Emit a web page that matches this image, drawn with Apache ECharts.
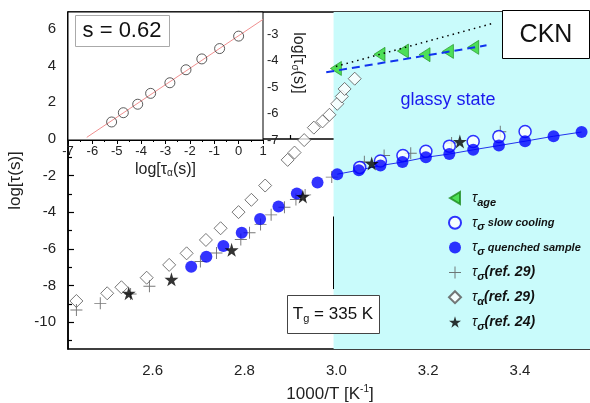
<!DOCTYPE html>
<html><head><meta charset="utf-8">
<script src="https://cdn.jsdelivr.net/npm/echarts@6/dist/echarts.min.js"></script>
<style>html,body{margin:0;padding:0;background:#fff}#c{width:590px;height:403px}</style>
</head><body><div id="c"></div>
<script>
// ---------- data ----------
const xTicks = [2.6, 2.8, 3.0, 3.2, 3.4];
const xMinorTicks = [2.5, 2.7, 2.9, 3.1, 3.3, 3.5];
const yTicks = [-10, -8, -6, -4, -2, 0, 2, 4, 6];
const yMinorTicks = [-11, -9, -7, -5, -3, -1, 1, 3, 5];
const insetXTicks = [-7, -6, -5, -4, -3, -2, -1, 0, 1];
const insetYTicks = [-7, -6, -5, -4, -3];

const tauAge = [[2.999,3.85],[3.094,4.62],[3.145,4.80],[3.192,4.60],[3.243,4.78],[3.298,5.00]];
const ageFitDotted = [[2.999,3.96],[3.338,6.29]];
const ageFitDashed = [[2.978,3.64],[3.327,5.11]];
const slowCooling = [[3.051,-1.55],[3.096,-1.20],[3.145,-0.90],[3.195,-0.67],[3.246,-0.39],[3.298,-0.14],[3.354,0.14],[3.411,0.41]];
const quenched = [[2.684,-6.97],[2.717,-6.42],[2.754,-5.84],[2.794,-5.11],[2.834,-4.36],[2.874,-3.69],[2.914,-2.98],[2.959,-2.37],
  [3.002,-1.92],[3.049,-1.70],[3.096,-1.45],[3.144,-1.26],[3.195,-1.00],[3.246,-0.82],[3.298,-0.59],[3.354,-0.36],[3.411,-0.12],[3.473,0.15],[3.534,0.38]];
const sigmaRef29 = [[2.434,-9.33],[2.486,-8.97],[2.552,-8.46],[2.593,-8.04],[2.704,-6.68],[2.739,-6.22],[2.792,-5.49],[2.811,-5.12],
  [2.835,-4.66],[2.858,-4.14],[2.887,-3.72],[2.912,-3.30],[2.932,-3.05],[2.990,-2.08],[3.061,-1.24],[3.104,-0.90],[3.162,-0.78],[3.251,-0.22],[3.357,0.40]];
const alphaRef29 = [[2.434,-8.84],[2.501,-8.42],[2.532,-8.09],[2.587,-7.57],[2.636,-6.87],[2.674,-6.24],[2.716,-5.51],[2.748,-4.87],
  [2.787,-3.99],[2.815,-3.32],[2.845,-2.54],[2.894,-1.14],[2.909,-0.74],[2.930,-0.06],[2.951,0.62],[2.970,0.96],[2.985,1.32],
  [3.002,1.92],[3.012,2.32],[3.018,2.73],[3.040,3.29]];
const sigmaRef24 = [[2.548,-8.42],[2.641,-7.66],[2.772,-6.05],[2.927,-3.14],[3.077,-1.34],[3.269,-0.14]];
const glassStart = 2.994;
const tgArrow = [[2.994,-4.23],[2.994,-8.19]];

const insetPoints = [[-5.21,-6.32],[-4.73,-5.97],[-4.14,-5.65],[-3.61,-5.24],[-2.82,-4.84],[-2.16,-4.35],[-1.51,-3.94],[-0.78,-3.55],[0.0,-3.08]];
const insetFit = [[-6.23,-6.90],[1.0,-2.45]];

// ---------- chart ----------
const FF = '"Liberation Sans", Arial, sans-serif';
const X_MIN = 2.4157, X_MAX = 3.5567, Y_MIN = -11.46, Y_MAX = 6.93;
const starPath = 'path://M50,0 L61,35 L98,35 L68,57 L79,91 L50,70 L21,91 L32,57 L2,35 L39,35 Z';
const plusPath = 'path://M0,9.2 H20 V10.8 H0 Z M9.2,0 H10.8 V20 H9.2 Z';
const triLeft = 'path://M0,6 L10,0 L10,12 Z';

const legendText = {
  'age': '{t|τ}{sb|age}',
  'slow': '{t|τ}{sb|σ} {bi|slow cooling}',
  'quenched': '{t|τ}{sb|σ} {bi|quenched sample}',
  'ref29s': '{t|τ}{sb|σ}{p|(ref. 29)}',
  'ref29a': '{t|τ}{sb|α}{p|(ref. 29)}',
  'ref24': '{t|τ}{sb|σ}{p|(ref. 24)}'
};

const chart = echarts.init(document.getElementById('c'));
const axisLineBlack = {lineStyle: {color: '#000', width: 1.5}};

chart.setOption({
  animation: false,
  backgroundColor: '#fff',
  grid: [
    {left: 68, top: 12, width: 524, height: 337, show: true, borderColor: '#000', borderWidth: 1.5, backgroundColor: '#fff', containLabel: false, outerBoundsMode: 'none'},
    {left: 68, top: 12, width: 195, height: 128, show: true, borderColor: '#000', borderWidth: 1, backgroundColor: '#fff', z: 3, containLabel: false, outerBoundsMode: 'none'}
  ],
  xAxis: [
    {gridIndex: 0, type: 'value', min: X_MIN, max: X_MAX, axisLine: axisLineBlack,
     axisTick: {inside: true, length: 6, customValues: xTicks, lineStyle: {color: '#000', width: 1.2}},
     axisLabel: {customValues: xTicks, formatter: v => v.toFixed(1), fontSize: 15, color: '#222', margin: 14, fontFamily: FF},
     splitLine: {show: false},
     name: '{a|1000/T [K}{s|-1}{a|]}', nameLocation: 'middle', nameGap: 35,
     nameTextStyle: {rich: {a: {fontSize: 17, fontFamily: FF, color: '#222', lineHeight: 20}, s: {fontSize: 10, fontFamily: FF, color: '#222', verticalAlign: 'top', lineHeight: 12}}}},
    {gridIndex: 0, type: 'value', min: X_MIN, max: X_MAX, position: 'bottom', axisLine: {show: false},
     axisTick: {inside: true, length: 4, customValues: xMinorTicks, lineStyle: {color: '#000', width: 1.2}},
     axisLabel: {show: false}, splitLine: {show: false}},
    {gridIndex: 1, type: 'value', min: -7, max: 1, interval: 1, axisLine: {lineStyle: {color: '#000', width: 1}},
     axisTick: {inside: false, length: 4, lineStyle: {color: '#000'}},
     minorTick: {show: true, splitNumber: 2, length: 2, lineStyle: {color: '#000'}},
     axisLabel: {fontSize: 13, color: '#222', margin: 5, fontFamily: FF},
     splitLine: {show: false},
     name: '{a|log[τ}{s|α}{a|(s)]}', nameLocation: 'middle', nameGap: 22,
     nameTextStyle: {rich: {a: {fontSize: 16, fontFamily: FF, color: '#222'}, s: {fontSize: 10, fontFamily: FF, color: '#222', padding: [6, 0, 0, 0]}}}}
  ],
  yAxis: [
    {gridIndex: 0, type: 'value', min: Y_MIN, max: Y_MAX, axisLine: axisLineBlack,
     axisTick: {inside: true, length: 6, customValues: yTicks, lineStyle: {color: '#000', width: 1.2}},
     axisLabel: {customValues: yTicks, fontSize: 15, color: '#222', margin: 12, fontFamily: FF},
     splitLine: {show: false},
     name: 'log[τ(s)]', nameLocation: 'middle', nameGap: 44,
     nameTextStyle: {fontSize: 17, fontFamily: FF, color: '#222'}},
    {gridIndex: 0, type: 'value', min: Y_MIN, max: Y_MAX, position: 'left', axisLine: {show: false},
     axisTick: {inside: true, length: 4, customValues: yMinorTicks, lineStyle: {color: '#000', width: 1.2}},
     axisLabel: {show: false}, splitLine: {show: false}},
    {gridIndex: 1, type: 'value', min: -7, max: -2.17, position: 'right', axisLine: {lineStyle: {color: '#000', width: 1}},
     axisTick: {inside: false, length: 4, customValues: insetYTicks, lineStyle: {color: '#000'}},
     axisLabel: {customValues: insetYTicks, fontSize: 13, color: '#222', margin: 4, fontFamily: FF},
     splitLine: {show: false}}
  ],
  legend: {
    orient: 'vertical', left: 443, top: 186, itemWidth: 12, itemHeight: 12, itemGap: 7.8,
    data: ['age', 'slow', 'quenched', 'ref29s', 'ref29a', 'ref24'],
    formatter: n => legendText[n],
    textStyle: {color: '#111', padding: [0, 0, 0, 6], rich: {
      t: {fontSize: 14, fontFamily: FF, fontStyle: 'italic', color: '#111', lineHeight: 20},
      sb: {fontSize: 11, fontFamily: FF, fontStyle: 'italic', fontWeight: 'bold', color: '#111', padding: [9, 0, 0, 0]},
      bi: {fontSize: 11, fontFamily: FF, fontStyle: 'italic', fontWeight: 'bold', color: '#111'},
      p: {fontSize: 14, fontFamily: FF, fontStyle: 'italic', fontWeight: 'bold', color: '#111'}
    }}
  },
  series: [
    {name: 'bg', type: 'line', xAxisIndex: 0, yAxisIndex: 0, data: [[glassStart, Y_MIN]], showSymbol: false, symbol: 'none', z: 1, silent: true,
     markArea: {silent: true, itemStyle: {color: '#c9fbfb', opacity: 1}, data: [[{xAxis: glassStart}, {xAxis: X_MAX}]]},
     markLine: {silent: true, symbol: ['none', 'arrow'], symbolSize: [0, 9], label: {show: false},
       lineStyle: {color: '#000', width: 1, type: 'solid'},
       data: [[{coord: tgArrow[0]}, {coord: tgArrow[1]}]]}},
    {name: 'ref29a', type: 'scatter', xAxisIndex: 0, yAxisIndex: 0, data: alphaRef29, symbol: 'diamond', symbolSize: 13,
     itemStyle: {color: '#fff', borderColor: '#555', borderWidth: 1}, z: 3},
    {name: 'ref29s', type: 'scatter', xAxisIndex: 0, yAxisIndex: 0, data: sigmaRef29, symbol: plusPath, symbolSize: 12,
     itemStyle: {color: '#555'}, z: 3},
    {name: 'slow', type: 'scatter', xAxisIndex: 0, yAxisIndex: 0, data: slowCooling, symbol: 'circle', symbolSize: 12,
     itemStyle: {color: '#fff', borderColor: '#0000ff', borderWidth: 1.5}, z: 4},
    {name: 'qline', type: 'line', xAxisIndex: 0, yAxisIndex: 0, data: quenched.filter(p => p[0] >= 3.0), symbol: 'none',
     lineStyle: {color: '#2233ee', width: 1}, z: 4},
    {name: 'quenched', type: 'scatter', xAxisIndex: 0, yAxisIndex: 0, data: quenched, symbol: 'circle', symbolSize: 12,
     itemStyle: {color: '#0000ff'}, z: 5},
    {name: 'ref24', type: 'scatter', xAxisIndex: 0, yAxisIndex: 0, data: sigmaRef24, symbol: starPath, symbolSize: 14,
     itemStyle: {color: '#000'}, z: 6},
    {name: 'age', type: 'scatter', xAxisIndex: 0, yAxisIndex: 0, data: tauAge, symbol: triLeft, symbolSize: [11, 14],
     itemStyle: {color: '#2ed82e', borderColor: '#1a8a1a', borderWidth: 0.8}, z: 5},
    {name: 'dotted', type: 'line', xAxisIndex: 0, yAxisIndex: 0, data: ageFitDotted, symbol: 'none',
     lineStyle: {color: '#000', width: 1.5, type: [1.5, 4]}, z: 6},
    {name: 'dashed', type: 'line', xAxisIndex: 0, yAxisIndex: 0, data: ageFitDashed, symbol: 'none',
     lineStyle: {color: '#1133ee', width: 2, type: [8, 5]}, z: 6},
    {name: 'insetFit', type: 'line', xAxisIndex: 2, yAxisIndex: 2, data: insetFit, symbol: 'none',
     lineStyle: {color: '#f09090', width: 1}, z: 6},
    {name: 'insetPts', type: 'scatter', xAxisIndex: 2, yAxisIndex: 2, data: insetPoints, symbol: 'circle', symbolSize: 10,
     itemStyle: {color: 'rgba(255,255,255,0)', borderColor: '#333', borderWidth: 1}, z: 7}
  ],
  graphic: [
    {type: 'rect', z: 100, shape: {x: 75.5, y: 15.5, width: 94, height: 31}, style: {fill: '#fff', stroke: '#aaa', lineWidth: 1}},
    {type: 'text', z: 101, x: 122, y: 31, style: {text: 's = 0.62', fontSize: 22, fontFamily: FF, fill: '#111', align: 'center', verticalAlign: 'middle'}},
    {type: 'rect', z: 100, shape: {x: 502.5, y: 10.5, width: 87, height: 48}, style: {fill: '#fff', stroke: '#000', lineWidth: 1}},
    {type: 'text', z: 101, x: 546, y: 35, style: {text: 'CKN', fontSize: 25, fontFamily: FF, fill: '#111', align: 'center', verticalAlign: 'middle'}},
    {type: 'text', z: 101, x: 448, y: 100, style: {text: 'glassy state', fontSize: 18, fontFamily: FF, fill: '#1a1aee', align: 'center', verticalAlign: 'middle'}},
    {type: 'rect', z: 100, shape: {x: 287.5, y: 295.5, width: 92, height: 38}, style: {fill: '#fff', stroke: '#444', lineWidth: 1}},
    {type: 'text', z: 101, x: 333, y: 314, style: {text: '{a|T}{s|g}{a| = 335 K}', align: 'center', verticalAlign: 'middle',
      rich: {a: {fontSize: 17, fontFamily: FF, fill: '#111'}, s: {fontSize: 11, fontFamily: FF, fill: '#111', padding: [10, 0, 0, 0]}}}},
    {type: 'text', z: 101, x: 298, y: 63, rotation: -Math.PI / 2, style: {text: '{a|log[τ}{s|σ}{a|(s)]}', align: 'center', verticalAlign: 'middle',
      rich: {a: {fontSize: 16, fontFamily: FF, fill: '#222'}, s: {fontSize: 10, fontFamily: FF, fill: '#222', padding: [6, 0, 0, 0]}}}}
  ]
});
</script></body></html>
